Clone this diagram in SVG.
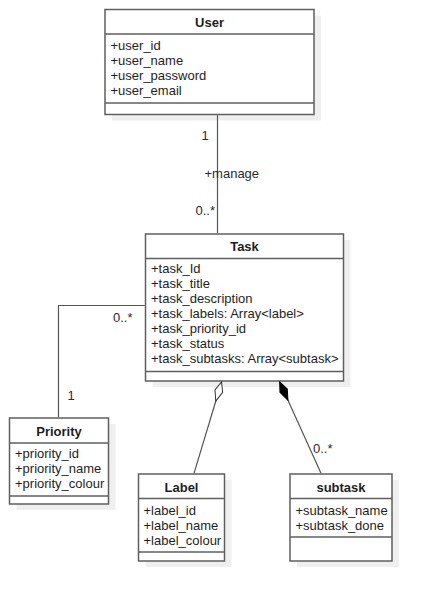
<svg xmlns="http://www.w3.org/2000/svg" width="433" height="601" viewBox="0 0 433 601">
<style>
.box{fill:#fff;stroke:#5f5f5f;stroke-width:1.5}
.shadow{fill:#efefef}
.sep{stroke:#5f5f5f;stroke-width:1.5}
.title{font-family:"Liberation Sans",Arial,sans-serif;font-size:13px;font-weight:bold;fill:#1e1e1e;text-anchor:middle}
.attr{font-family:"Liberation Sans",Arial,sans-serif;font-size:13px;fill:#1e1e1e}
.lbl{font-family:"Liberation Sans",Arial,sans-serif;font-size:13px;fill:#2a2a2a}
.conn{fill:none;stroke:#555;stroke-width:1.2}
</style>
<defs>
<marker id="agg" markerUnits="userSpaceOnUse" markerWidth="22" markerHeight="10" viewBox="0 -5 22 10" refX="0" refY="0" orient="auto">
<path d="M0.5,0 L10,-4 L20.5,0 L10,4 Z" fill="#fff" stroke="#333" stroke-width="1"/>
</marker>
<marker id="comp" markerUnits="userSpaceOnUse" markerWidth="22" markerHeight="10" viewBox="0 -5 22 10" refX="0" refY="0" orient="auto">
<path d="M0.5,0 L10,-4 L20.5,0 L10,4 Z" fill="#000" stroke="#000" stroke-width="1"/>
</marker>
</defs>

<g id="user">
<rect class="shadow" x="112" y="15.5" width="209" height="105"/>
<rect class="box" x="105" y="9.5" width="209" height="105"/>
<line class="sep" x1="105" y1="34" x2="314" y2="34"/>
<line class="sep" x1="105" y1="103" x2="314" y2="103"/>
<text class="title" x="209.5" y="27">User</text>
<text class="attr" x="110.5" y="50">+user_id</text>
<text class="attr" x="110.5" y="65">+user_name</text>
<text class="attr" x="110.5" y="80">+user_password</text>
<text class="attr" x="110.5" y="95">+user_email</text>
</g>

<g id="task">
<rect class="shadow" x="152.5" y="240" width="198" height="147"/>
<rect class="box" x="145.5" y="234" width="198" height="147"/>
<line class="sep" x1="145.5" y1="258.5" x2="343.5" y2="258.5"/>
<line class="sep" x1="145.5" y1="371.5" x2="343.5" y2="371.5"/>
<text class="title" x="244.5" y="251">Task</text>
<text class="attr" x="151" y="273">+task_Id</text>
<text class="attr" x="151" y="288">+task_title</text>
<text class="attr" x="151" y="303">+task_description</text>
<text class="attr" x="151" y="318">+task_labels: Array&lt;label&gt;</text>
<text class="attr" x="151" y="333">+task_priority_id</text>
<text class="attr" x="151" y="348">+task_status</text>
<text class="attr" x="151" y="363">+task_subtasks: Array&lt;subtask&gt;</text>
</g>

<g id="priority">
<rect class="shadow" x="16.5" y="424" width="99" height="86"/>
<rect class="box" x="9.5" y="418" width="99" height="86"/>
<line class="sep" x1="9.5" y1="443" x2="108.5" y2="443"/>
<line class="sep" x1="9.5" y1="496" x2="108.5" y2="496"/>
<text class="title" x="59" y="435.5">Priority</text>
<text class="attr" x="15" y="458">+priority_id</text>
<text class="attr" x="15" y="473">+priority_name</text>
<text class="attr" x="15" y="488">+priority_colour</text>
</g>

<g id="label">
<rect class="shadow" x="145.5" y="480" width="86" height="87"/>
<rect class="box" x="138.5" y="474" width="86" height="87"/>
<line class="sep" x1="138.5" y1="498.5" x2="224.5" y2="498.5"/>
<line class="sep" x1="138.5" y1="552" x2="224.5" y2="552"/>
<text class="title" x="181.5" y="491.5">Label</text>
<text class="attr" x="143.5" y="514.5">+label_id</text>
<text class="attr" x="143.5" y="529.5">+label_name</text>
<text class="attr" x="143.5" y="544.5">+label_colour</text>
</g>

<g id="subtask">
<rect class="shadow" x="297" y="480" width="102" height="87"/>
<rect class="box" x="290" y="474" width="102" height="87"/>
<line class="sep" x1="290" y1="498.5" x2="392" y2="498.5"/>
<line class="sep" x1="290" y1="537" x2="392" y2="537"/>
<text class="title" x="341" y="491.5">subtask</text>
<text class="attr" x="295.5" y="514.5">+subtask_name</text>
<text class="attr" x="295.5" y="529.5">+subtask_done</text>
</g>

<g id="connectors">
<path class="conn" d="M217.5,115.2 V233.2"/>
<path class="conn" d="M144.7,305.5 H58.5 V417.2"/>
<path class="conn" d="M221.7,381.5 L194,473.3" marker-start="url(#agg)"/>
<path class="conn" d="M279.5,381.5 L321,473.3" marker-start="url(#comp)"/>
<text class="lbl" x="205" y="139.5" text-anchor="middle">1</text>
<text class="lbl" x="204.5" y="177.5">+manage</text>
<text class="lbl" x="215" y="214.5" text-anchor="end">0..*</text>
<text class="lbl" x="113" y="321.5">0..*</text>
<text class="lbl" x="71" y="399.5" text-anchor="middle">1</text>
<text class="lbl" x="313" y="453">0..*</text>
</g>
</svg>
